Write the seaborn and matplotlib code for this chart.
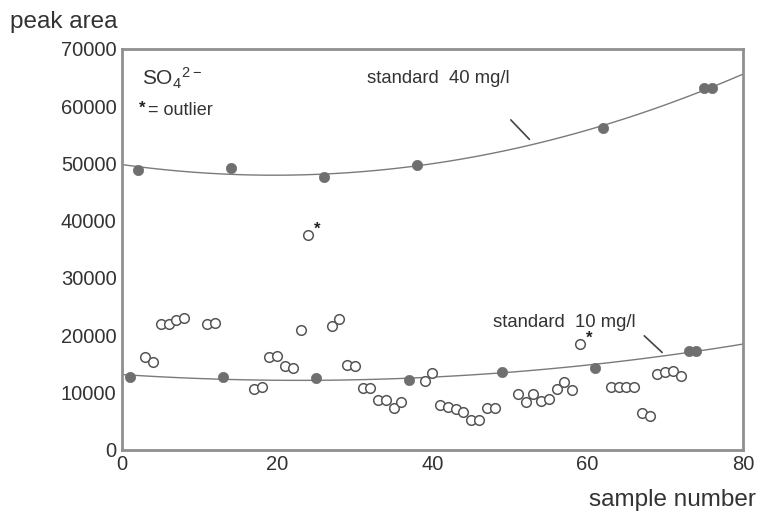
import numpy as np
import pandas as pd
import matplotlib
matplotlib.use("Agg")
import matplotlib.pyplot as plt
import seaborn as sns

# sample measurements (open circles)
sample_x = [3, 4, 5, 6, 7, 8, 11, 12, 17, 18, 19, 20, 21, 22, 23,
            27, 28, 29, 30, 31, 32, 33, 34, 35, 36,
            39, 40, 41, 42, 43, 44, 45, 46, 47, 48,
            51, 52, 53, 54, 55, 56, 57, 58,
            63, 64, 65, 66, 67, 68, 69, 70, 71, 72]
sample_y = [16200, 15300, 21900, 21900, 22700, 23000, 21900, 22200, 10600, 11050, 16200, 16450, 14650, 14250, 20950,
            21700, 22800, 14830, 14700, 10760, 10760, 8730, 8730, 7270, 8320,
            12040, 13380, 7850, 7450, 7150, 6520, 5120, 5120, 7270, 7270,
            9720, 8260, 9720, 8440, 8900, 10590, 11920, 10470,
            10940, 10940, 10940, 10940, 6400, 5930, 13260, 13500, 13840, 12800]

# outliers
outlier_x = [24, 59]
outlier_y = [37500, 18500]

# standards
std10_x = [1, 13, 25, 37, 49, 61, 73, 74]
std10_y = [12700, 12700, 12500, 12200, 13600, 14300, 17300, 17300]
std40_x = [2, 14, 26, 38, 62, 75, 76]
std40_y = [48900, 49200, 47600, 49700, 56200, 63200, 63200]

samples = pd.DataFrame({"x": sample_x + outlier_x, "y": sample_y + outlier_y})
std10 = pd.DataFrame({"x": std10_x, "y": std10_y})
std40 = pd.DataFrame({"x": std40_x, "y": std40_y})

sns.set_style("white")
plt.rcParams["font.family"] = ["Liberation Sans", "DejaVu Sans"]
plt.rcParams["mathtext.default"] = "regular"

fig = plt.figure(figsize=(7.58, 5.2), dpi=100)
ax = fig.add_axes([0.161, 0.135, 0.819, 0.771])
ax.set_xlim(0, 80)
ax.set_ylim(0, 70000)

# quadratic drift curves through the standards
line_kw = dict(color="#7a7a7a", linewidth=1.0)
for df in (std10, std40):
    sns.regplot(data=df, x="x", y="y", order=2, ci=None, scatter=False,
                truncate=False, line_kws=line_kw, ax=ax)

sns.scatterplot(data=samples, x="x", y="y", marker="o", s=48, color="white",
                edgecolor="#555555", linewidth=1.1, ax=ax, zorder=3)
for df in (std10, std40):
    sns.scatterplot(data=df, x="x", y="y", marker="o", s=55, color="#6f6f6f",
                    edgecolor="#6f6f6f", linewidth=0.5, ax=ax, zorder=4)

# asterisks marking outliers
for ox, oy in zip(outlier_x, outlier_y):
    ax.annotate("*", (ox, oy), xytext=(4, 1), textcoords="offset points",
                fontsize=12, fontweight="bold", color="#222222")

ax.set_xlim(0, 80)
ax.set_ylim(0, 70000)
ax.set_xticks([0, 20, 40, 60, 80])
ax.set_yticks(range(0, 70001, 10000))
ax.tick_params(axis="both", direction="out", length=2.5, width=1.5, color="#222222",
               labelsize=14.5, labelcolor="#333333", pad=1.5)
for sp in ax.spines.values():
    sp.set_color("#8f8f8f")
    sp.set_linewidth(2)
ax.set_xlabel("")
ax.set_ylabel("")

fig.text(0.013, 0.957, "peak area", fontsize=17.5, color="#333333", va="center")
fig.text(0.997, 0.038, "sample number", fontsize=17.5, color="#333333", va="center", ha="right")

ax.text(2.6, 64900, "SO$_4$$^{2-}$", fontsize=15, color="#333333", va="center")
ax.text(2.2, 59600, "*", fontsize=12, fontweight="bold", color="#222222", va="center")
ax.text(3.3, 59300, "= outlier", fontsize=13, color="#333333", va="center")

ax.text(31.6, 64800, "standard  40 mg/l", fontsize=13.3, color="#333333", va="center")
ax.plot([50.1, 52.5], [57600, 54200], color="#444444", linewidth=1.2)
ax.text(47.8, 22300, "standard  10 mg/l", fontsize=13.3, color="#333333", va="center")
ax.plot([67.3, 69.6], [19900, 17000], color="#444444", linewidth=1.2)

fig.savefig("out.png", dpi=100)
